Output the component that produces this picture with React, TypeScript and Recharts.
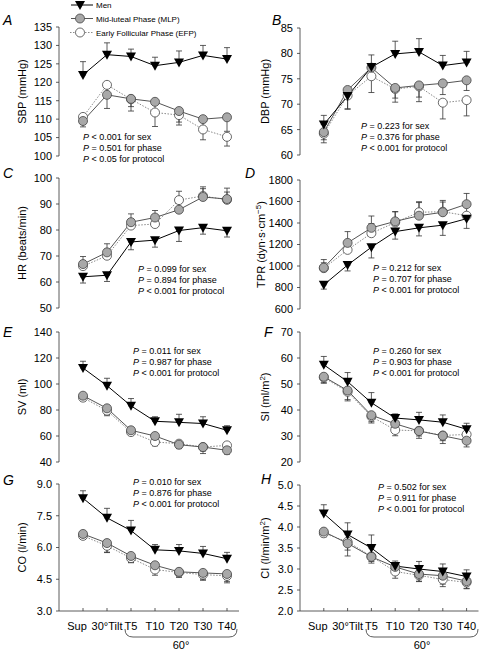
import { ErrorBar, Line, LineChart, XAxis, YAxis } from "recharts";

const categories = ["Sup", "30°Tilt", "T5", "T10", "T20", "T30", "T40"];
const legendNames = ["Men", "Mid-luteal Phase (MLP)", "Early Follicular Phase (EFP)"];

// error values: positive = bar drawn upward, negative = downward
// A: SBP (mmHg)
const sbpMen = [122.0, 127.5, 127.0, 124.5, 125.4, 127.3, 126.3];
const sbpMenErr = [3.6, 3.2, 2.0, 2.3, 3.1, 2.7, 3.1];
const sbpMlp = [109.5, 116.6, 115.5, 114.7, 112.2, 110.0, 110.5];
const sbpMlpErr = [-1.6, -3.7, -3.3, -3.0, -3.0, -2.5, -3.8];
const sbpEfp = [110.6, 119.3, 115.4, 111.8, 111.1, 107.2, 105.2];
const sbpEfpErr = [-1.5, -3.0, -2.0, -3.8, -2.7, -2.8, -2.5];
const sbpTicks = [100, 105, 110, 115, 120, 125, 130, 135];

// B: DBP (mmHg)
const dbpMen = [66.0, 71.6, 77.3, 79.9, 80.3, 77.6, 78.2];
const dbpMenErr = [1.8, -2.6, 2.4, 2.5, 2.6, 2.0, 2.2];
const dbpMlp = [64.5, 72.8, 77.2, 73.2, 73.7, 74.1, 74.7];
const dbpMlpErr = [-1.5, 0.5, -1.5, -2.0, -2.3, -2.2, -2.0];
const dbpEfp = [64.2, 71.7, 75.5, 73.0, 73.5, 70.3, 70.8];
const dbpEfpErr = [-1.8, -2.6, -3.2, -2.6, -3.0, -3.2, -3.1];
const dbpTicks = [60, 65, 70, 75, 80, 85];

// C: HR (beats/min)
const hrMen = [62.0, 62.6, 75.4, 76.1, 79.8, 80.9, 79.7];
const hrMenErr = [-2.4, -2.4, -3.0, -2.7, -4.2, -2.5, -2.4];
const hrMlp = [66.9, 71.4, 83.0, 84.8, 87.8, 92.7, 91.9];
const hrMlpErr = [2.9, 3.3, 3.2, 2.7, 2.5, 3.9, 4.2];
const hrEfp = [66.1, 70.1, 81.7, 82.3, 91.5, 93.1, 91.6];
const hrEfpErr = [2.0, 2.5, 2.5, 2.5, 3.4, 2.8, 3.0];
const hrTicks = [50, 60, 70, 80, 90, 100];

// D: TPR (dyn·s·cm-5)
const tprMen = [825, 1009, 1175, 1320, 1355, 1380, 1440];
const tprMenErr = [-40, -55, -100, -70, -75, -95, -90];
const tprMlp = [985, 1215, 1355, 1415, 1468, 1500, 1575];
const tprMlpErr = [75, 105, 110, 90, 130, 110, 100];
const tprEfp = [980, 1150, 1305, 1405, 1500, 1505, 1468];
const tprEfpErr = [50, 80, 90, 100, 90, 90, 90];
const tprTicks = [600, 800, 1000, 1200, 1400, 1600, 1800];

// E: SV (ml)
const svMen = [112.3, 98.7, 83.2, 71.3, 70.5, 69.6, 64.4];
const svMenErr = [5.2, 5.7, 5.6, 3.5, 6.2, 5.2, 3.5];
const svMlp = [91.0, 81.3, 64.4, 60.0, 53.3, 51.5, 49.0];
const svMlpErr = [-3.0, -5.7, -4.0, -3.0, -3.0, -5.0, -3.0];
const svEfp = [89.5, 79.5, 63.0, 55.4, 54.1, 51.5, 52.8];
const svEfpErr = [-2.5, -3.0, -2.5, -3.0, -2.8, -3.0, -3.0];
const svTicks = [40, 60, 80, 100, 120, 140];

// F: SI (ml/m2)
const siMen = [57.4, 50.9, 42.8, 36.9, 36.2, 35.3, 32.6];
const siMenErr = [3.2, 3.5, 3.9, 1.6, 2.9, 2.8, 2.3];
const siMlp = [52.8, 47.5, 38.0, 34.7, 31.9, 30.1, 28.2];
const siMlpErr = [-2.5, -4.0, -2.5, -2.0, -2.8, -3.0, -2.4];
const siEfp = [52.5, 47.0, 37.5, 32.3, 32.0, 30.2, 30.6];
const siEfpErr = [-2.0, -3.0, -2.5, -2.2, -2.0, -2.0, -2.0];
const siTicks = [20, 30, 40, 50, 60, 70];

// G: CO (l/min)
const coMen = [8.33, 7.4, 6.8, 5.89, 5.84, 5.72, 5.47];
const coMenErr = [0.35, 0.45, 0.48, 0.25, 0.3, 0.33, 0.3];
const coMlp = [6.64, 6.21, 5.6, 5.16, 4.85, 4.8, 4.75];
const coMlpErr = [-0.25, -0.45, -0.32, -0.25, -0.25, -0.3, -0.35];
const coEfp = [6.55, 6.08, 5.5, 4.96, 4.82, 4.72, 4.66];
const coEfpErr = [-0.15, -0.3, -0.2, -0.27, -0.22, -0.27, -0.33];
const coTicks = [3.0, 4.5, 6.0, 7.5, 9.0];

// H: CI (l/min/m2)
const ciMen = [4.32, 3.82, 3.5, 3.07, 3.0, 2.94, 2.82];
const ciMenErr = [0.21, 0.28, 0.31, 0.12, 0.18, 0.18, 0.16];
const ciMlp = [3.89, 3.61, 3.29, 3.05, 2.88, 2.84, 2.71];
const ciMlpErr = [-0.12, -0.3, -0.15, -0.15, -0.17, -0.2, -0.17];
const ciEfp = [3.85, 3.65, 3.3, 2.94, 2.85, 2.75, 2.68];
const ciEfpErr = [-0.08, -0.2, -0.12, -0.16, -0.15, -0.17, -0.15];
const ciTicks = [2.0, 2.5, 3.0, 3.5, 4.0, 4.5, 5.0];

const statsA = ["< 0.001 for sex", "= 0.501 for phase", "< 0.05 for protocol"];
const statsB = ["= 0.223 for sex", "= 0.376 for phase", "< 0.001 for protocol"];
const statsC = ["= 0.099 for sex", "= 0.894 for phase", "< 0.001 for protocol"];
const statsD = ["= 0.212 for sex", "= 0.707 for phase", "< 0.001 for protocol"];
const statsE = ["= 0.011 for sex", "= 0.987 for phase", "< 0.001 for protocol"];
const statsF = ["= 0.260 for sex", "= 0.903 for phase", "< 0.001 for protocol"];
const statsG = ["= 0.010 for sex", "= 0.876 for phase", "< 0.001 for protocol"];
const statsH = ["= 0.502 for sex", "= 0.911 for phase", "< 0.001 for protocol"];

const FONT = "'Liberation Sans', Arial, Helvetica, sans-serif";
const xTicks = [0, 1, 2, 3, 4, 5, 6];

const toBar = (e: number) => (e >= 0 ? [0, e] : [-e, 0]);

function buildRows(men: number[], menErr: number[], mlp: number[], mlpErr: number[], efp: number[], efpErr: number[]) {
  return categories.map((name, i) => ({
    i,
    name,
    men: men[i],
    menErr: toBar(menErr[i]),
    mlp: mlp[i],
    mlpErr: toBar(mlpErr[i]),
    efp: efp[i],
    efpErr: toBar(efpErr[i]),
  }));
}

type Panel = {
  letter: string;
  letterX: number;
  letterY: number;
  label: any;
  labelX: number;
  left: number;
  plotLeft: number;
  plotRight: number;
  top: number;
  bottom: number;
  domain: [number, number];
  ticks: number[];
  digits: number;
  rows: any[];
  stats: string[];
  statsX: number;
  statsY: number;
  bottomAxis: boolean;
};

const panels: Panel[] = [
  {
    letter: "A", letterX: 3, letterY: 25, label: "SBP (mmHg)", labelX: 26,
    left: 0, plotLeft: 59, plotRight: 239, top: 27, bottom: 156,
    domain: [100, 135], ticks: sbpTicks, digits: 0,
    rows: buildRows(sbpMen, sbpMenErr, sbpMlp, sbpMlpErr, sbpEfp, sbpEfpErr),
    stats: statsA, statsX: 83, statsY: 137, bottomAxis: false,
  },
  {
    letter: "B", letterX: 272, letterY: 25, label: "DBP (mmHg)", labelX: 269,
    left: 243, plotLeft: 300, plotRight: 478.5, top: 28, bottom: 155,
    domain: [60, 85], ticks: dbpTicks, digits: 0,
    rows: buildRows(dbpMen, dbpMenErr, dbpMlp, dbpMlpErr, dbpEfp, dbpEfpErr),
    stats: statsB, statsX: 361, statsY: 126, bottomAxis: false,
  },
  {
    letter: "C", letterX: 3, letterY: 178, label: "HR (beats/min)", labelX: 26,
    left: 0, plotLeft: 59, plotRight: 239, top: 178, bottom: 308,
    domain: [50, 100], ticks: hrTicks, digits: 0,
    rows: buildRows(hrMen, hrMenErr, hrMlp, hrMlpErr, hrEfp, hrEfpErr),
    stats: statsC, statsX: 138, statsY: 269, bottomAxis: false,
  },
  {
    letter: "D", letterX: 245, letterY: 178,
    label: (
      <>
        TPR (dyn·s·cm
        <tspan dy={-4} fontSize={8}>−5</tspan>
        <tspan dy={4}>)</tspan>
      </>
    ),
    labelX: 265,
    left: 243, plotLeft: 300, plotRight: 478.5, top: 180, bottom: 309,
    domain: [600, 1800], ticks: tprTicks, digits: 0,
    rows: buildRows(tprMen, tprMenErr, tprMlp, tprMlpErr, tprEfp, tprEfpErr),
    stats: statsD, statsX: 373, statsY: 268, bottomAxis: false,
  },
  {
    letter: "E", letterX: 3, letterY: 337, label: "SV (ml)", labelX: 26,
    left: 0, plotLeft: 59, plotRight: 239, top: 332, bottom: 462,
    domain: [40, 140], ticks: svTicks, digits: 0,
    rows: buildRows(svMen, svMenErr, svMlp, svMlpErr, svEfp, svEfpErr),
    stats: statsE, statsX: 133, statsY: 351, bottomAxis: false,
  },
  {
    letter: "F", letterX: 264, letterY: 337,
    label: (
      <>
        SI (ml/m
        <tspan dy={-4} fontSize={8}>2</tspan>
        <tspan dy={4}>)</tspan>
      </>
    ),
    labelX: 269,
    left: 243, plotLeft: 300, plotRight: 478.5, top: 332, bottom: 462,
    domain: [20, 70], ticks: siTicks, digits: 0,
    rows: buildRows(siMen, siMenErr, siMlp, siMlpErr, siEfp, siEfpErr),
    stats: statsF, statsX: 373, statsY: 351, bottomAxis: false,
  },
  {
    letter: "G", letterX: 3, letterY: 485, label: "CO (l/min)", labelX: 26,
    left: 0, plotLeft: 59, plotRight: 239, top: 484, bottom: 611,
    domain: [3, 9], ticks: coTicks, digits: 1,
    rows: buildRows(coMen, coMenErr, coMlp, coMlpErr, coEfp, coEfpErr),
    stats: statsG, statsX: 133, statsY: 482, bottomAxis: true,
  },
  {
    letter: "H", letterX: 261, letterY: 484,
    label: (
      <>
        CI (l/min/m
        <tspan dy={-4} fontSize={8}>2</tspan>
        <tspan dy={4}>)</tspan>
      </>
    ),
    labelX: 269,
    left: 243, plotLeft: 300, plotRight: 478.5, top: 485, bottom: 611,
    domain: [2, 5], ticks: ciTicks, digits: 1,
    rows: buildRows(ciMen, ciMenErr, ciMlp, ciMlpErr, ciEfp, ciEfpErr),
    stats: statsH, statsX: 378, statsY: 487, bottomAxis: true,
  },
];

function TriangleDot(props: any) {
  const { cx, cy } = props;
  if (cx == null || cy == null) return <g />;
  return <path d={`M${cx - 5},${cy - 4} L${cx + 5},${cy - 4} L${cx},${cy + 5} Z`} fill="#000" />;
}

function XTick(props: any) {
  const { x, y, payload } = props;
  const axisY = y - 6;
  // "Sup" sits a little left of its tick in the original so it clears "30°Tilt"
  const shift = payload.value === 0 ? -6 : 0;
  return (
    <g>
      <line x1={x} x2={x} y1={axisY} y2={axisY - 3} stroke="#333" strokeWidth={0.8} />
      <text x={x + shift} y={axisY + 19} textAnchor="middle" fontSize={11} fill="#000" fontFamily={FONT}>
        {categories[payload.value]}
      </text>
    </g>
  );
}

function PanelChart({ p }: { p: Panel }) {
  const marginTop = 8;
  const marginBottom = 6;
  const axisH = p.bottomAxis ? 34 : 0;
  const width = p.plotRight + 4 - p.left;
  const height = p.bottom - p.top + marginTop + marginBottom + axisH;
  return (
    <div style={{ position: "absolute", left: p.left, top: p.top - marginTop }}>
      <LineChart
        width={width}
        height={height}
        data={p.rows}
        margin={{ top: marginTop, right: 4, bottom: marginBottom, left: 0 }}
      >
        <XAxis
          type="number"
          dataKey="i"
          domain={[-1, 6.5]}
          ticks={xTicks}
          interval={0}
          allowDataOverflow
          hide={!p.bottomAxis}
          height={axisH}
          axisLine={{ stroke: "#333", strokeWidth: 0.8 }}
          tickLine={false}
          tickSize={0}
          tickMargin={6}
          tick={<XTick />}
        />
        <YAxis
          type="number"
          domain={p.domain}
          ticks={p.ticks}
          interval={0}
          allowDataOverflow
          width={p.plotLeft - p.left}
          axisLine={{ stroke: "#333", strokeWidth: 0.8 }}
          tickLine={{ stroke: "#333", strokeWidth: 0.8 }}
          tickSize={3}
          tickMargin={4}
          tick={{ fontSize: 11, fill: "#000", fontFamily: FONT }}
          tickFormatter={(v: number) => v.toFixed(p.digits)}
        />
        <Line
          dataKey="efp"
          stroke="#8a8a8a"
          strokeWidth={1}
          strokeDasharray="1.5 1.5"
          isAnimationActive={false}
          activeDot={false}
          dot={{ r: 4.5, fill: "#fff", stroke: "#444", strokeWidth: 0.8, strokeDasharray: "0" }}
        >
          <ErrorBar dataKey="efpErr" direction="y" width={3} stroke="#333" strokeWidth={0.8} />
        </Line>
        <Line
          dataKey="mlp"
          stroke="#555"
          strokeWidth={1}
          isAnimationActive={false}
          activeDot={false}
          dot={{ r: 4.5, fill: "#a8a8a8", stroke: "#444", strokeWidth: 0.8 }}
        >
          <ErrorBar dataKey="mlpErr" direction="y" width={3} stroke="#333" strokeWidth={0.8} />
        </Line>
        <Line
          dataKey="men"
          stroke="#000"
          strokeWidth={1}
          isAnimationActive={false}
          activeDot={false}
          dot={<TriangleDot />}
        >
          <ErrorBar dataKey="menErr" direction="y" width={3} stroke="#333" strokeWidth={0.8} />
        </Line>
      </LineChart>
    </div>
  );
}

function Overlay() {
  return (
    <svg
      width={487}
      height={651}
      style={{ position: "absolute", left: 0, top: 0, pointerEvents: "none" }}
      fontFamily={FONT}
    >
      {/* legend */}
      <line x1={71} x2={93} y1={5} y2={5} stroke="#000" strokeWidth={1} />
      <TriangleDot cx={80} cy={5} />
      <text x={96} y={8} fontSize={8}>{legendNames[0]}</text>
      <line x1={71} x2={93} y1={18.5} y2={18.5} stroke="#555" strokeWidth={1} />
      <circle cx={80} cy={18.5} r={4.5} fill="#a8a8a8" stroke="#444" strokeWidth={0.8} />
      <text x={96} y={21.5} fontSize={8}>{legendNames[1]}</text>
      <line x1={70} x2={93} y1={32.5} y2={32.5} stroke="#8a8a8a" strokeWidth={1} strokeDasharray="1.5 1.5" />
      <circle cx={80} cy={32.5} r={4.5} fill="#fff" stroke="#444" strokeWidth={0.8} />
      <text x={96} y={35.5} fontSize={8}>{legendNames[2]}</text>

      {panels.map((p) => {
        const midY = (p.top + p.bottom) / 2;
        return (
          <g key={p.letter}>
            <text x={p.letterX} y={p.letterY} fontSize={14} fontStyle="italic">
              {p.letter}
            </text>
            <text
              x={p.labelX}
              y={midY}
              fontSize={11}
              textAnchor="middle"
              transform={`rotate(-90 ${p.labelX} ${midY})`}
            >
              {p.label}
            </text>
            {p.stats.map((s, k) => (
              <text key={k} x={p.statsX} y={p.statsY + 3 + k * 11} fontSize={9}>
                <tspan fontStyle="italic">P</tspan> {s}
              </text>
            ))}
          </g>
        );
      })}

      {/* 60° brackets under T5..T40 */}
      <path d="M125,629 Q125,637 133,637 L229,637 Q237,637 237,629" fill="none" stroke="#333" strokeWidth={0.8} />
      <text x={181} y={649} fontSize={11} textAnchor="middle">60°</text>
      <path d="M366,629 Q366,637 374,637 L470,637 Q478,637 478,629" fill="none" stroke="#333" strokeWidth={0.8} />
      <text x={422} y={649} fontSize={11} textAnchor="middle">60°</text>
    </svg>
  );
}

export default function App() {
  return (
    <div style={{ position: "absolute", left: 0, top: 0, width: 487, height: 651, background: "#fff" }}>
      {panels.map((p) => (
        <PanelChart key={p.letter} p={p} />
      ))}
      <Overlay />
    </div>
  );
}
